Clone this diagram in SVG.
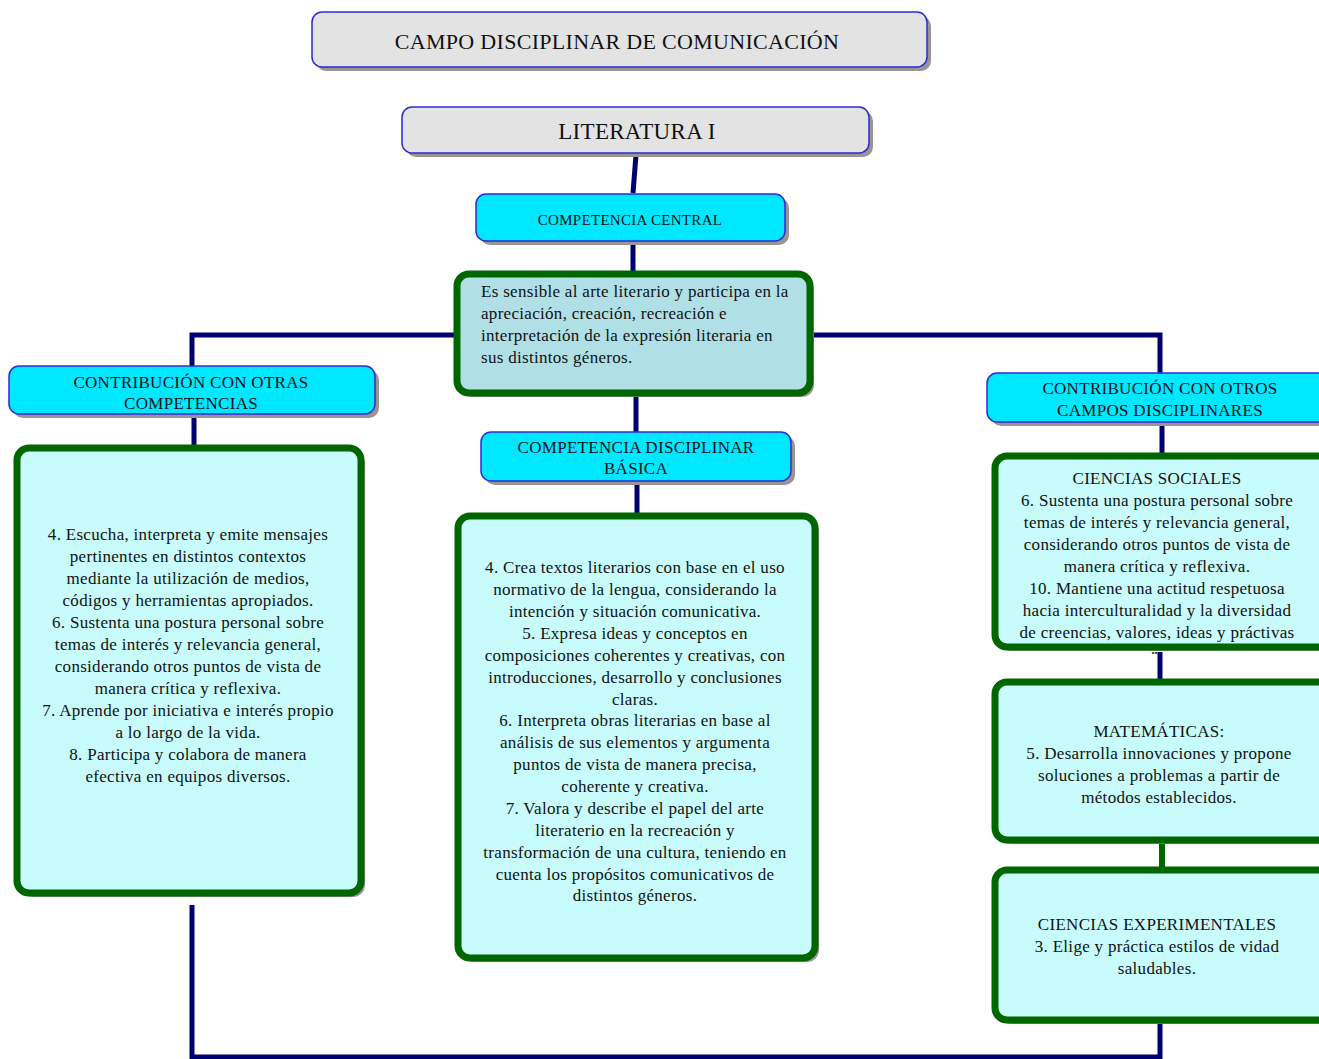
<svg xmlns="http://www.w3.org/2000/svg" width="1319" height="1059" viewBox="0 0 1319 1059">
<style>
text{font-family:"Liberation Serif","Times New Roman",serif;fill:#111;}
.c{text-anchor:middle;}
.sh{fill:#9a9494;}
.grey{fill:#e4e3e3;stroke:#2b2bd6;stroke-width:1.5;}
.cyan{fill:#00e8ff;stroke:#2b2bd6;stroke-width:1.5;}
.grn{fill:#c8fcfc;stroke:#006600;stroke-width:7;}
.grn2{fill:#b0e0e6;stroke:#006600;stroke-width:7;}
.con{fill:none;stroke:#000070;stroke-width:5;}
.cong{fill:none;stroke:#006600;stroke-width:6;}
.t16{font-size:17px;letter-spacing:0.3px;}
.t14{font-size:15px;letter-spacing:0.3px;}
.t21{font-size:22px;letter-spacing:0.3px;}
.t23{font-size:23px;letter-spacing:0.3px;}
</style>
<rect width="1319" height="1059" fill="#fff"/>
<g id="connectors">
<path class="con" d="M636,155 L633,193"/>
<path class="con" d="M633,241 L633,275"/>
<path class="con" d="M457,335 L192,335 L192,367"/>
<path class="con" d="M810,335 L1160,335 L1160,373"/>
<path class="con" d="M636,393 L636,432"/>
<path class="con" d="M194,414 L194,448"/>
<path class="con" d="M637,481 L637,516"/>
<path class="con" d="M1162,422 L1162,456"/>
<path class="con" d="M1160,652 L1160,682"/>
<path class="cong" d="M1162,843 L1162,870"/>
<path class="con" d="M192,905 L192,1057 L1160,1057 L1160,1024"/>
</g>
<g id="campo">
<rect class="sh" x="316" y="16" width="615" height="55" rx="10"/>
<rect class="grey" x="312" y="12" width="615" height="55" rx="10"/>
<text class="c t21" x="617" y="49">CAMPO DISCIPLINAR DE COMUNICACIÓN</text>
</g>
<g id="literatura">
<rect class="sh" x="406" y="111" width="467" height="46" rx="10"/>
<rect class="grey" x="402" y="107" width="467" height="46" rx="10"/>
<text class="c t23" x="637" y="139">LITERATURA I</text>
</g>
<g id="comp-central">
<rect class="sh" x="480" y="198" width="309" height="47" rx="10"/>
<rect class="cyan" x="476" y="194" width="309" height="47" rx="10"/>
<text class="c t14" x="630" y="225">COMPETENCIA CENTRAL</text>
</g>
<g id="central">
<rect class="sh" x="461" y="278" width="353" height="119" rx="12"/>
<rect class="grn2" x="457" y="274" width="353" height="119" rx="12"/>
<text class="t16" x="481" y="297">Es sensible al arte literario y participa en la</text>
<text class="t16" x="481" y="319">apreciación, creación, recreación e</text>
<text class="t16" x="481" y="341">interpretación de la expresión literaria en</text>
<text class="t16" x="481" y="363">sus distintos géneros.</text>
</g>
<g id="contrib-comp">
<rect class="sh" x="13" y="370" width="366" height="48" rx="10"/>
<rect class="cyan" x="9" y="366" width="366" height="48" rx="10"/>
<text class="c t16" x="191" y="388">CONTRIBUCIÓN CON OTRAS</text>
<text class="c t16" x="191" y="409">COMPETENCIAS</text>
</g>
<g id="otras-comp">
<rect class="sh" x="21" y="452" width="344" height="445" rx="12"/>
<rect class="grn" x="17" y="448" width="344" height="445" rx="12"/>
<text class="c t16" x="188" y="540">4. Escucha, interpreta y emite mensajes</text>
<text class="c t16" x="188" y="562">pertinentes en distintos contextos</text>
<text class="c t16" x="188" y="584">mediante la utilización de medios,</text>
<text class="c t16" x="188" y="606">códigos y herramientas apropiados.</text>
<text class="c t16" x="188" y="628">6. Sustenta una postura personal sobre</text>
<text class="c t16" x="188" y="650">temas de interés y relevancia general,</text>
<text class="c t16" x="188" y="672">considerando otros puntos de vista de</text>
<text class="c t16" x="188" y="694">manera crítica y reflexiva.</text>
<text class="c t16" x="188" y="716">7. Aprende por iniciativa e interés propio</text>
<text class="c t16" x="188" y="738">a lo largo de la vida.</text>
<text class="c t16" x="188" y="760">8. Participa y colabora de manera</text>
<text class="c t16" x="188" y="782">efectiva en equipos diversos.</text>
</g>
<g id="comp-basica">
<rect class="sh" x="485" y="436" width="310" height="49" rx="10"/>
<rect class="cyan" x="481" y="432" width="310" height="49" rx="10"/>
<text class="c t16" x="636" y="453">COMPETENCIA DISCIPLINAR</text>
<text class="c t16" x="636" y="474">BÁSICA</text>
</g>
<g id="basica">
<rect class="sh" x="462" y="520" width="357" height="442" rx="12"/>
<rect class="grn" x="458" y="516" width="357" height="442" rx="12"/>
<text class="c t16" x="635" y="573">4. Crea textos literarios con base en el uso</text>
<text class="c t16" x="635" y="595">normativo de la lengua, considerando la</text>
<text class="c t16" x="635" y="617">intención y situación comunicativa.</text>
<text class="c t16" x="635" y="639">5. Expresa ideas y conceptos en</text>
<text class="c t16" x="635" y="661">composiciones coherentes y creativas, con</text>
<text class="c t16" x="635" y="683">introducciones, desarrollo y conclusiones</text>
<text class="c t16" x="635" y="705">claras.</text>
<text class="c t16" x="635" y="726">6. Interpreta obras literarias en base al</text>
<text class="c t16" x="635" y="748">análisis de sus elementos y argumenta</text>
<text class="c t16" x="635" y="770">puntos de vista de manera precisa,</text>
<text class="c t16" x="635" y="792">coherente y creativa.</text>
<text class="c t16" x="635" y="814">7. Valora y describe el papel del arte</text>
<text class="c t16" x="635" y="836">literaterio en la recreación y</text>
<text class="c t16" x="635" y="858">transformación de una cultura, teniendo en</text>
<text class="c t16" x="635" y="880">cuenta los propósitos comunicativos de</text>
<text class="c t16" x="635" y="901">distintos géneros.</text>
</g>
<g id="contrib-campos">
<rect class="sh" x="991" y="377" width="345" height="49" rx="10"/>
<rect class="cyan" x="987" y="373" width="345" height="49" rx="10"/>
<text class="c t16" x="1160" y="394">CONTRIBUCIÓN CON OTROS</text>
<text class="c t16" x="1160" y="416">CAMPOS DISCIPLINARES</text>
</g>
<g id="sociales">
<rect class="sh" x="999" y="460" width="340" height="191" rx="12"/>
<rect class="grn" x="995" y="456" width="340" height="191" rx="12"/>
<text class="c t16" x="1157" y="484">CIENCIAS SOCIALES</text>
<text class="c t16" x="1157" y="506">6. Sustenta una postura personal sobre</text>
<text class="c t16" x="1157" y="528">temas de interés y relevancia general,</text>
<text class="c t16" x="1157" y="550">considerando otros puntos de vista de</text>
<text class="c t16" x="1157" y="572">manera crítica y reflexiva.</text>
<text class="c t16" x="1157" y="594">10. Mantiene una actitud respetuosa</text>
<text class="c t16" x="1157" y="616">hacia interculturalidad y la diversidad</text>
<text class="c t16" x="1157" y="638">de creencias, valores, ideas y práctivas</text>
<text x="1156" y="654" style="font-size:12px;font-weight:bold;text-anchor:middle">...</text>
</g>
<g id="matematicas">
<rect class="sh" x="999" y="686" width="340" height="158" rx="12"/>
<rect class="grn" x="995" y="682" width="340" height="158" rx="12"/>
<text class="c t16" x="1159" y="737">MATEMÁTICAS:</text>
<text class="c t16" x="1159" y="759">5. Desarrolla innovaciones y propone</text>
<text class="c t16" x="1159" y="781">soluciones a problemas a partir de</text>
<text class="c t16" x="1159" y="803">métodos establecidos.</text>
</g>
<g id="experimentales">
<rect class="sh" x="999" y="874" width="340" height="150" rx="12"/>
<rect class="grn" x="995" y="870" width="340" height="150" rx="12"/>
<text class="c t16" x="1157" y="930">CIENCIAS EXPERIMENTALES</text>
<text class="c t16" x="1157" y="952">3. Elige y práctica estilos de vidad</text>
<text class="c t16" x="1157" y="974">saludables.</text>
</g>
</svg>
